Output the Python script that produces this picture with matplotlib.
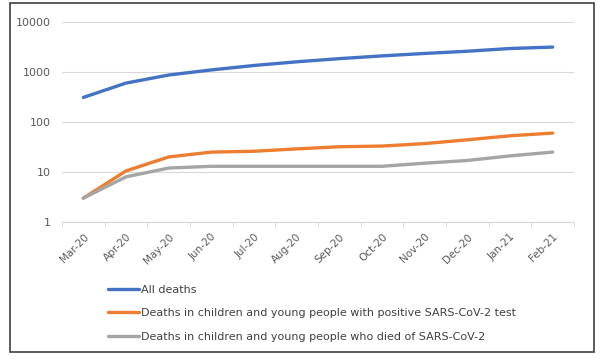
import matplotlib
matplotlib.use("Agg")
import matplotlib.pyplot as plt
from matplotlib.patches import Rectangle
import numpy as np

months = ["Mar-20", "Apr-20", "May-20", "Jun-20", "Jul-20", "Aug-20", "Sep-20",
          "Oct-20", "Nov-20", "Dec-20", "Jan-21", "Feb-21"]
all_deaths = [310, 600, 870, 1100, 1350, 1600, 1850, 2100, 2350, 2600, 2950, 3150]
positive_test = [3, 10.5, 20, 25, 26, 29, 32, 33, 37, 44, 53, 60]
died_of = [3, 8, 12, 13, 13, 13, 13, 13, 15, 17, 21, 25]
yticks = [1, 10, 100, 1000, 10000]
labels = ["All deaths",
          "Deaths in children and young people with positive SARS-CoV-2 test",
          "Deaths in children and young people who died of SARS-CoV-2"]
colors = ["#4472C4", "#ED7D31", "#A5A5A5"]

W, H = 601, 359
fig = plt.figure(figsize=(W / 100, H / 100), dpi=100)
ax = fig.add_axes([62 / W, 1 - 222 / H, (574 - 62) / W, 200 / H])

x = np.arange(len(months))
for s, lab, c in zip([all_deaths, positive_test, died_of], labels, colors):
    ax.plot(x, s, color=c, lw=2.4, label=lab, solid_capstyle="round")

ax.set_yscale("log")
ax.set_ylim(1, 10000)
ax.set_xlim(-0.5, len(months) - 0.5)
ax.set_yticks(yticks)
ax.set_yticklabels([str(v) for v in yticks])
ax.yaxis.set_minor_locator(matplotlib.ticker.NullLocator())
ax.grid(axis="y", color="#D9D9D9", lw=0.8)
ax.set_axisbelow(True)
for sp in ["top", "right", "left"]:
    ax.spines[sp].set_visible(False)
ax.spines["bottom"].set_color("#D9D9D9")
ax.tick_params(axis="y", length=0, labelsize=8, labelcolor="#595959", pad=8)
ax.set_xticks(x)
ax.set_xticklabels(months, rotation=45, ha="right", rotation_mode="anchor",
                   fontsize=7.5, color="#595959")
ax.tick_params(axis="x", which="major", length=0, pad=7)
ax.set_xticks(np.arange(-0.5, len(months), 1), minor=True)
ax.tick_params(axis="x", which="minor", length=4, color="#D9D9D9")

handles, labs = ax.get_legend_handles_labels()
fig.legend(handles, labs, loc="upper left", bbox_to_anchor=(98 / W, 1 - 275 / H),
           frameon=False, fontsize=8, handlelength=2.8, handletextpad=0.2,
           labelspacing=1.2, labelcolor="#404040")

fig.patches.append(Rectangle((10 / W, 1 - 352 / H), 584 / W, 349 / H,
                             transform=fig.transFigure, fill=False,
                             edgecolor="#404040", lw=1.2))
fig.savefig("out.png", dpi=100)
